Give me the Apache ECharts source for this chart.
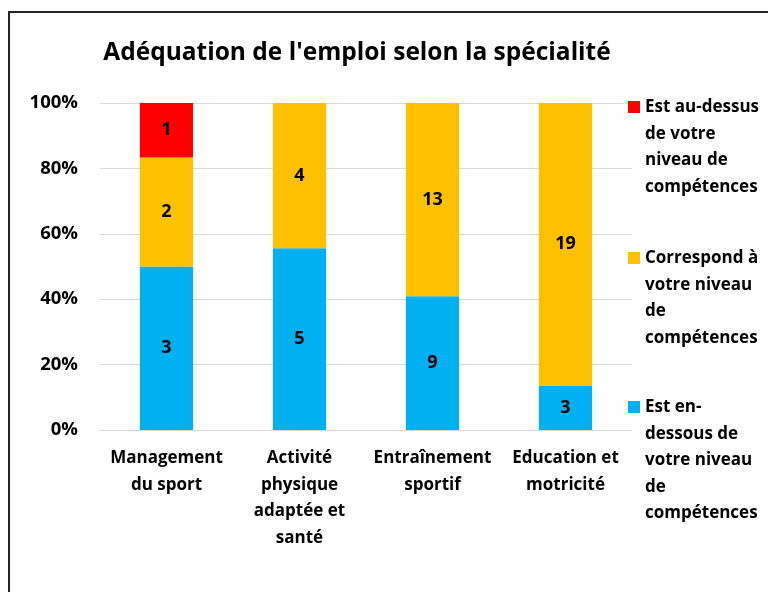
<!DOCTYPE html>
<html>
<head>
<meta charset="utf-8">
<script src="https://cdn.jsdelivr.net/npm/echarts@6/dist/echarts.min.js"></script>
<style>
html, body { margin: 0; padding: 0; background: #fff; overflow: hidden; }
#chart { width: 768px; height: 592px; }
.frame { position: absolute; left: 8px; top: 11px; width: 800px; height: 700px; border: 2px solid #262626; pointer-events: none; }
</style>
</head>
<body>
<div id="chart"></div>
<div class="frame"></div>
<script>
// données (effectifs)
const categories = ['Management\ndu sport', 'Activité\nphysique\nadaptée et\nsanté', 'Entraînement\nsportif', 'Education et\nmotricité']
const seriesNames = ['Est en-dessous de votre niveau de compétences', 'Correspond à votre niveau de compétences', 'Est au-dessus de votre niveau de compétences']
const legendLabels = ['Est en-\ndessous de\nvotre niveau\nde\ncompétences', 'Correspond à\nvotre niveau\nde\ncompétences', 'Est au-dessus\nde votre\nniveau de\ncompétences']
const belowCounts = [3, 5, 9, 3]
const matchCounts = [2, 4, 13, 19]
const aboveCounts = [1, 0, 0, 0]
const colors = ['#00B0F0', '#FFC000', '#FF0000']
const yTicks = [0, 20, 40, 60, 80, 100]

const FONT = 'Open Sans'
const LH = 26.5

const allCounts = [belowCounts, matchCounts, aboveCounts]
const totals = categories.map((c, i) => allCounts.reduce((s, arr) => s + arr[i], 0))
const toPct = arr => arr.map((v, i) => v / totals[i] * 100)

const chart = echarts.init(document.getElementById('chart'))

// une légende par entrée, pour caler le carré sur la première ligne
const legendTops = [394, 245, 94]
const legends = seriesNames.map((name, k) => {
  const lines = legendLabels[k].split('\n').length
  const h = Math.round(lines * LH)
  return {
    data: [name],
    orient: 'vertical',
    left: 628,
    top: legendTops[k],
    padding: 0,
    itemWidth: 12,
    itemHeight: h,
    icon: 'path://M0,7h12v12h-12zM0,0M12,' + h,
    formatter: () => legendLabels[k],
    textStyle: { fontFamily: FONT, fontWeight: 'bold', fontSize: 17, color: '#000', lineHeight: LH }
  }
})

const option = {
  animation: false,
  title: {
    text: "Adéquation de l'emploi selon la spécialité",
    left: 352,
    textAlign: 'center',
    top: 36,
    textStyle: { fontFamily: FONT, fontWeight: 'bold', fontSize: 24.5, color: '#000' }
  },
  legend: legends,
  grid: { left: 100, right: 136, top: 103, bottom: 162, containLabel: false },
  xAxis: {
    type: 'category',
    data: categories,
    axisLine: { lineStyle: { color: '#d9d9d9', width: 1 } },
    axisTick: { show: false },
    axisLabel: {
      interval: 0, margin: 15,
      fontFamily: FONT, fontWeight: 'bold', fontSize: 17, color: '#000', lineHeight: LH
    }
  },
  yAxis: {
    type: 'value',
    min: yTicks[0],
    max: yTicks[yTicks.length - 1],
    interval: yTicks[1] - yTicks[0],
    axisLine: { show: false },
    axisTick: { show: false },
    splitLine: { lineStyle: { color: '#d9d9d9', width: 1 } },
    axisLabel: {
      formatter: '{value}%', margin: 22,
      fontFamily: FONT, fontWeight: 'bold', fontSize: 18.5, color: '#000'
    }
  },
  series: allCounts.map((counts, k) => ({
    name: seriesNames[k],
    type: 'bar',
    stack: 'total',
    barWidth: '40%',
    itemStyle: { color: colors[k] },
    data: toPct(counts),
    label: {
      show: true,
      position: 'inside',
      formatter: p => counts[p.dataIndex] > 0 ? String(counts[p.dataIndex]) : '',
      fontFamily: FONT, fontWeight: 'bold', fontSize: 18, color: '#000'
    }
  }))
}

chart.setOption(option)
</script>
</body>
</html>
